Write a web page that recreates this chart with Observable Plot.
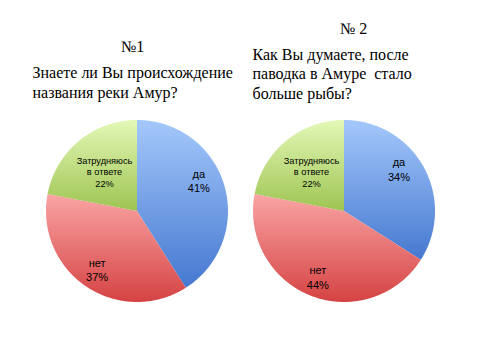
<!DOCTYPE html>
<html><head><meta charset="utf-8">
<script src="https://cdn.jsdelivr.net/npm/d3@7"></script>
<script src="https://cdn.jsdelivr.net/npm/@observablehq/plot@0.6"></script>
<style>html,body{margin:0;padding:0;background:#fff;} #chart{width:480px;height:360px;}</style>
</head><body><div id="chart"></div>
<script>
// ---- data ----
const categories = ["да", "нет", "Затрудняюсь в ответе"];
const valuesQ1 = [41, 37, 22];
const valuesQ2 = [34, 44, 22];
const numberQ1 = "№1";
const numberQ2 = "№ 2";
const questionQ1 = ["Знаете ли Вы происхождение", "названия реки Амур?"];
const questionQ2 = ["Как Вы думаете, после", "паводка в Амуре  стало", "больше рыбы?"];

// ---- styles ----
const gradients = [["#a4c8fb", "#4578d0"], ["#faa4a4", "#d54343"], ["#e3f8b6", "#9ec452"]];
const labelRadius = [0.76, 0.78, 0.56];
const labelAngleFrac = [0.43, 0.5, 0.5];
const pieCenters = [0, 2.275];

const pieGen = d3.pie().sort(null).startAngle(0).endAngle(2 * Math.PI);
const outline = [], labels = [];
[valuesQ1, valuesQ2].forEach((vals, pi) => {
  const cx = pieCenters[pi];
  pieGen(vals).forEach((a, i) => {
    const key = pi + "-" + i;
    const n = Math.max(2, Math.ceil((a.endAngle - a.startAngle) / 0.01));
    outline.push({key, cat: i, x: cx, y: 0});
    for (let k = 0; k <= n; k++) {
      const t = a.startAngle + (a.endAngle - a.startAngle) * k / n;
      outline.push({key, cat: i, x: cx + Math.sin(t), y: Math.cos(t)});
    }
    const mid = a.startAngle + (a.endAngle - a.startAngle) * labelAngleFrac[i], r = labelRadius[i];
    labels.push({cat: i, x: cx + r * Math.sin(mid), y: r * Math.cos(mid),
      text: categories[i].replace(" ", "\n") + "\n" + vals[i] + "%"});
  });
});

const defs = () => {
  const d = d3.create("svg:defs");
  gradients.forEach(([a, b], i) => {
    const g = d.append("linearGradient").attr("id", "grad" + i)
      .attr("x1", 0).attr("y1", 0).attr("x2", 0).attr("y2", 1);
    g.append("stop").attr("offset", "0%").attr("stop-color", a);
    g.append("stop").attr("offset", "100%").attr("stop-color", b);
  });
  return d.node();
};

const serif = "'Liberation Serif', 'Times New Roman', serif";
const sans = "'Liberation Sans', Arial, sans-serif";

const chart = Plot.plot({
  width: 480, height: 360,
  margin: 0,
  x: {domain: [-1.5, 3.775], axis: null},
  y: {domain: [-1.643, 2.313], axis: null},
  style: {background: "#fff", color: "#000"},
  marks: [
    defs,
    ...categories.map((c, i) => Plot.line(outline.filter(d => d.cat === i), {
      x: "x", y: "y", z: "key", fill: `url(#grad${i})`, stroke: "none", curve: "linear"
    })),
    Plot.text(labels.filter(d => d.cat < 2), {x: "x", y: "y", text: "text", fontFamily: sans, fontSize: 11, fill: "#000", lineHeight: 1.3}),
    Plot.text(labels.filter(d => d.cat === 2), {x: "x", y: "y", text: "text", fontFamily: sans, fontSize: 9.2, fill: "#000", lineHeight: 1.22}),
    Plot.text([numberQ1], {frameAnchor: "top-left", dx: 132, dy: 40.6, textAnchor: "middle", lineAnchor: "top", fontFamily: serif, fontSize: 16, fill: "#000"}),
    Plot.text([questionQ1.join("\n")], {frameAnchor: "top-left", dx: 32, dy: 63.6, textAnchor: "start", lineAnchor: "top", lineHeight: 20 / 16, fontFamily: serif, fontSize: 16, fill: "#000"}),
    Plot.text([numberQ2], {frameAnchor: "top-left", dx: 353, dy: 22.6, textAnchor: "middle", lineAnchor: "top", fontFamily: serif, fontSize: 16, fill: "#000"}),
    Plot.text([questionQ2.join("\n")], {frameAnchor: "top-left", dx: 252, dy: 45.6, textAnchor: "start", lineAnchor: "top", lineHeight: 19.5 / 16, fontFamily: serif, fontSize: 16, fill: "#000"})
  ]
});
document.getElementById("chart").appendChild(chart);
</script>
</body></html>
